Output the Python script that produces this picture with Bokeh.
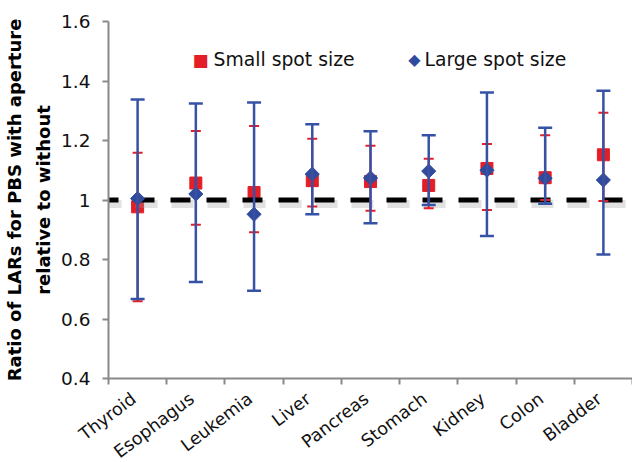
import math
from bokeh.plotting import figure
from bokeh.models import ColumnDataSource, Whisker, TeeHead, FixedTicker, Label, Range1d
from bokeh.embed import file_html
from bokeh.resources import INLINE

# ---------------- data ----------------
categories = ["Thyroid", "Esophagus", "Leukemia", "Liver", "Pancreas",
              "Stomach", "Kidney", "Colon", "Bladder"]
small_mean = [0.977, 1.057, 1.025, 1.065, 1.062, 1.049, 1.106, 1.075, 1.152]
small_upper = [1.159, 1.232, 1.249, 1.206, 1.182, 1.139, 1.188, 1.218, 1.293]
small_lower = [0.660, 0.917, 0.892, 0.978, 0.964, 0.972, 0.966, 1.000, 0.997]
large_mean = [1.005, 1.020, 0.952, 1.087, 1.074, 1.097, 1.100, 1.073, 1.067]
large_upper = [1.338, 1.324, 1.328, 1.255, 1.231, 1.218, 1.361, 1.243, 1.367]
large_lower = [0.667, 0.724, 0.695, 0.952, 0.922, 0.983, 0.879, 0.987, 0.817]
y_ticks = [0.4, 0.6, 0.8, 1.0, 1.2, 1.4, 1.6]
y_tick_labels = ["0.4", "0.6", "0.8", "1", "1.2", "1.4", "1.6"]
reference_ratio = 1.0
series_names = ["Small spot size", "Large spot size"]

# ---------------- style ----------------
RED = "#E31E26"
BLUE = "#2E4B9E"
BLUE_LINE = "#3552A6"
AXIS = "#898989"
FONT = "DejaVu Sans"
FRAME_W, FRAME_H = 524, 357
LABEL_SHIFT_PX = 4   # rotated category labels end just at the tick centre

n = len(categories)
xs = list(range(n))
src = ColumnDataSource(dict(x=xs, sm=small_mean, su=small_upper, sl=small_lower,
                            lm=large_mean, lu=large_upper, ll=large_lower))

y_start, y_end = y_ticks[0], y_ticks[-1]
p = figure(frame_width=FRAME_W, frame_height=FRAME_H, output_backend="svg",
           toolbar_location=None, title=None,
           x_range=Range1d(-0.5, n - 0.5),
           y_range=Range1d(y_start, y_end),
           min_border_left=102, min_border_right=0, min_border_top=21,
           min_border_bottom=10)
p.outline_line_color = None
p.xgrid.visible = False
p.ygrid.visible = False
p.background_fill_color = "white"
p.border_fill_color = "white"

# y axis
p.yaxis.ticker = FixedTicker(ticks=y_ticks)
p.yaxis.major_label_overrides = dict(zip(y_ticks, y_tick_labels))
p.yaxis.axis_line_color = AXIS
p.yaxis.axis_line_width = 2
p.yaxis.major_tick_line_color = AXIS
p.yaxis.major_tick_line_width = 2
p.yaxis.major_tick_in = 0
p.yaxis.major_tick_out = 6
p.yaxis.minor_tick_line_color = None
p.yaxis.major_label_text_font = FONT
p.yaxis.major_label_text_font_size = "18.5px"
p.yaxis.major_label_text_color = "#111111"
p.yaxis.major_label_standoff = 12
p.yaxis.axis_label = "Ratio of LARs for PBS with aperture\nrelative to without"
p.yaxis.axis_label_text_font = FONT
p.yaxis.axis_label_text_font_style = "bold"
p.yaxis.axis_label_text_font_size = "18px"
p.yaxis.axis_label_text_line_height = 1.4
p.yaxis.axis_label_text_color = "#000000"
p.yaxis.axis_label_standoff = 4

# x axis: boundary ticks as minor ticks, labels on (hidden) major ticks
shift = LABEL_SHIFT_PX * n / FRAME_W
label_pos = [i - shift for i in xs]
p.xaxis.ticker = FixedTicker(ticks=label_pos, minor_ticks=[i - 0.5 for i in range(n + 1)])
p.xaxis.major_label_overrides = dict(zip(label_pos, categories))
p.xaxis.axis_line_color = AXIS
p.xaxis.axis_line_width = 2
p.xaxis.major_tick_line_color = None
p.xaxis.minor_tick_line_color = AXIS
p.xaxis.minor_tick_line_width = 2
p.xaxis.minor_tick_in = 0
p.xaxis.minor_tick_out = 6
p.xaxis.major_label_orientation = 0.65
p.xaxis.major_label_text_font = FONT
p.xaxis.major_label_text_font_size = "17.5px"
p.xaxis.major_label_text_color = "#111111"
p.xaxis.major_label_standoff = 12

# red (small spot) squares
p.scatter("x", "sm", source=src, marker="square", size=12, fill_color=RED,
          line_color=RED)
# red whiskers
wr = Whisker(base="x", upper="su", lower="sl", source=src, dimension="height",
             line_color=RED, line_width=2, level="glyph",
             upper_head=TeeHead(size=10, line_color=RED, line_width=2),
             lower_head=TeeHead(size=10, line_color=RED, line_width=2))
p.add_layout(wr)
# blue whiskers
wb = Whisker(base="x", upper="lu", lower="ll", source=src, dimension="height",
             line_color=BLUE_LINE, line_width=2.5, level="glyph",
             upper_head=TeeHead(size=14, line_color=BLUE_LINE, line_width=2.5),
             lower_head=TeeHead(size=14, line_color=BLUE_LINE, line_width=2.5))
p.add_layout(wb)

# reference line with soft shadow
shadow_px = 4
px_per_unit = FRAME_H / (y_end - y_start)
xr = [p.x_range.start, p.x_range.end]
p.line(xr, [reference_ratio - shadow_px / px_per_unit] * 2, line_color="#9a9a9a",
       line_alpha=0.3, line_width=8, line_dash="22 14", line_dash_offset=9)
p.line(xr, [reference_ratio] * 2, line_color="black", line_width=5,
       line_dash="20 16", line_dash_offset=10)

# blue (large spot) diamonds
p.scatter("x", "lm", source=src, marker="square", angle=math.pi / 4, size=10,
          fill_color=BLUE, line_color=BLUE)

# legend (marker glyph + text)
leg_y = 319
p.add_layout(Label(x=92, y=leg_y, x_units="screen", y_units="screen", text="\u25A0",
                   text_color=RED, text_font=FONT, text_font_size="17px",
                   text_align="center", text_baseline="middle"))
p.add_layout(Label(x=105, y=leg_y, x_units="screen", y_units="screen", text=series_names[0],
                   text_color="#111111", text_font=FONT, text_font_size="18.8px",
                   text_align="left", text_baseline="middle"))
p.add_layout(Label(x=306, y=leg_y, x_units="screen", y_units="screen", text="\u25C6",
                   text_color=BLUE, text_font=FONT, text_font_size="16px",
                   text_align="center", text_baseline="middle"))
p.add_layout(Label(x=316, y=leg_y, x_units="screen", y_units="screen", text=series_names[1],
                   text_color="#111111", text_font=FONT, text_font_size="18.8px",
                   text_align="left", text_baseline="middle"))

open("out.html", "w").write(file_html(p, INLINE))
